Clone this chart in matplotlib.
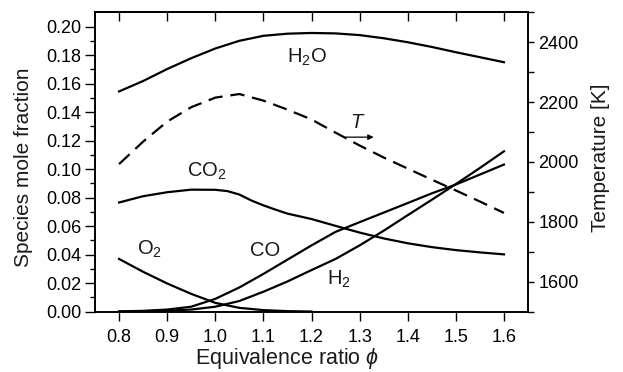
import matplotlib
matplotlib.use('Agg')
import matplotlib.pyplot as plt
import numpy as np

plt.rcParams['font.family'] = ['Liberation Sans', 'DejaVu Sans']
plt.rcParams['mathtext.fontset'] = 'custom'
plt.rcParams['mathtext.rm'] = 'Liberation Sans'
plt.rcParams['mathtext.it'] = 'Liberation Sans:italic'
plt.rcParams['text.color'] = '#1a1a1a'

phi = [0.80, 0.85, 0.90, 0.95, 1.00, 1.05, 1.10, 1.15, 1.20,
       1.25, 1.30, 1.35, 1.40, 1.45, 1.50, 1.55, 1.60]
h2o = [0.1545, 0.1618, 0.1702, 0.1778, 0.1846, 0.1900, 0.1935, 0.1950, 0.1955,
       0.1952, 0.1940, 0.1918, 0.1890, 0.1857, 0.1820, 0.1785, 0.1750]
co = [0.0002, 0.0006, 0.0015, 0.0035, 0.0090, 0.0170, 0.0265, 0.0365, 0.0465,
      0.0560, 0.0628, 0.0695, 0.0762, 0.0830, 0.0892, 0.0962, 0.1032]
h2 = [0.0001, 0.0003, 0.0007, 0.0015, 0.0035, 0.0075, 0.0140, 0.0212, 0.0292,
      0.0370, 0.0465, 0.0568, 0.0677, 0.0785, 0.0895, 0.1008, 0.1125]
temp = [1993, 2068, 2135, 2183, 2215, 2227, 2205, 2175, 2142,
        2098, 2055, 2015, 1978, 1941, 1905, 1868, 1830]

phi_co2 = [0.80, 0.85, 0.90, 0.95, 1.00, 1.025, 1.05, 1.075, 1.10, 1.125, 1.15,
           1.20, 1.25, 1.30, 1.35, 1.40, 1.45, 1.50, 1.55, 1.60]
co2 = [0.0766, 0.0810, 0.0838, 0.0856, 0.0855, 0.0846, 0.0822, 0.0780, 0.0746,
       0.0716, 0.0688, 0.0650, 0.0602, 0.0555, 0.0514, 0.0480, 0.0453, 0.0432,
       0.0416, 0.0402]

phi_o2 = [0.80, 0.85, 0.90, 0.95, 1.00, 1.05, 1.10, 1.15, 1.20]
o2 = [0.0370, 0.0280, 0.0198, 0.0125, 0.0062, 0.0027, 0.0011, 0.0004, 0.0001]

fig = plt.figure(figsize=(6.23, 3.72), dpi=100)
ax = fig.add_axes([95/623, 60.3/372, 433/623, 299.4/372])
ax2 = ax.twinx()

lw = 1.6
for y in (h2o, co, h2):
    ax.plot(phi, y, color='black', lw=lw)
ax.plot(phi_co2, co2, color='black', lw=lw)
ax.plot(phi_o2, o2, color='black', lw=lw)
ax2.plot(phi, temp, color='black', lw=lw, dashes=(6.5, 3.5))

ax.set_xlim(0.75, 1.65)
ax.set_ylim(0, 0.21)
ax2.set_ylim(1500, 2500)

xt = np.arange(0.8, 1.61, 0.1)
ax.set_xticks(xt)
ax.set_xticklabels(['%.1f' % v for v in xt])
yt = np.arange(0, 0.201, 0.02)
ax.set_yticks(yt)
ax.set_yticklabels(['%.2f' % v for v in yt])
ax.set_yticks(np.arange(0, 0.21, 0.01), minor=True)
ax2.set_yticks([1600, 1800, 2000, 2200, 2400])
ax2.set_yticks(np.arange(1500, 2501, 100), minor=True)

ax.tick_params(axis='x', which='major', direction='out', length=6.5, width=1,
               labelsize=13, pad=6)
ax.tick_params(axis='x', which='minor', bottom=False)
ax.tick_params(axis='y', which='major', direction='out', length=7, width=1,
               labelsize=13, pad=3)
ax.tick_params(axis='y', which='minor', direction='out', length=3.5, width=1)
ax2.tick_params(axis='y', which='both', direction='out', length=4.5, width=1,
                labelsize=13, pad=3)

top = ax.secondary_xaxis('top')
top.set_xticks(xt)
top.tick_params(direction='in', length=6.5, width=1, labeltop=False)

for a in (ax, ax2):
    for s in a.spines.values():
        s.set_linewidth(1.2)
top.spines['top'].set_linewidth(1.2)

fs = 14.5
ax.text(1.150, 0.1743, 'H$_2$O', fontsize=fs, va='baseline')
ax.text(0.941, 0.0945, 'CO$_2$', fontsize=fs, va='baseline')
ax.text(0.838, 0.0397, 'O$_2$', fontsize=fs, va='baseline')
ax.text(1.072, 0.0390, 'CO', fontsize=fs, va='baseline')
ax.text(1.232, 0.0187, 'H$_2$', fontsize=fs, va='baseline')
ax2.text(1.281, 2114, '$T$', fontsize=fs, va='baseline')
ax2.annotate('', xy=(1.335, 2083), xytext=(1.265, 2083),
             arrowprops=dict(arrowstyle='-|>', color='black', lw=0.9,
                             mutation_scale=8))

fig.text(287.5/623, 1 - 371/372, r'Equivalence ratio $\phi$', fontsize=15.5,
         ha='center', va='bottom')
fig.text(24/623, 1 - 167/372, 'Species mole fraction', fontsize=15,
         ha='center', va='center', rotation=90)
fig.text(600/623, 1 - 158/372, 'Temperature [K]', fontsize=15,
         ha='center', va='center', rotation=90)

plt.savefig('out.png', dpi=100)
